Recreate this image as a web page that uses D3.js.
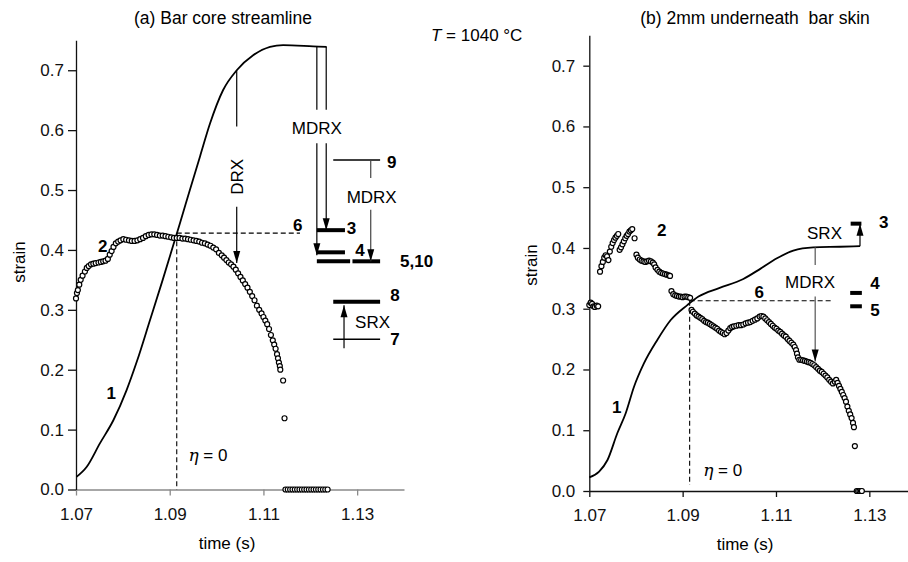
<!DOCTYPE html>
<html>
<head>
<meta charset="utf-8">
<script src="https://cdn.jsdelivr.net/npm/d3@7/dist/d3.min.js"></script>
<style>
  body { margin: 0; background: #fff; }
  svg { display: block; font-family: "Liberation Sans", Arial, sans-serif; }
  .tick text { font-size: 17px; fill: #111; }
  .num { font-size: 17px; font-weight: bold; }
  .note { font-size: 17px; }
</style>
</head>
<body>
<svg id="chart" width="908" height="562"></svg>
<script>
"use strict";

var timeTicks = [1.07, 1.09, 1.11, 1.13];
var strainTicks = [0, 0.1, 0.2, 0.3, 0.4, 0.5, 0.6, 0.7];

// (a) bar core: curve 1 = cumulative strain, 2 = strain at onset
var coreCurve = [
	[1.0701, 0.021], [1.0723, 0.038], [1.0751, 0.077], [1.0780, 0.116], [1.0808, 0.166],
	[1.0830, 0.214], [1.0858, 0.283], [1.0885, 0.350], [1.0908, 0.409], [1.0922, 0.445],
	[1.0943, 0.500], [1.0965, 0.557], [1.0986, 0.611], [1.1014, 0.667], [1.1043, 0.700],
	[1.1078, 0.725], [1.1114, 0.739], [1.1142, 0.742], [1.1206, 0.740], [1.1235, 0.739]
];
var coreScatter = [
	[1.0700, 0.319], [1.0702, 0.328], [1.0704, 0.333], [1.0707, 0.342], [1.0710, 0.350],
	[1.0714, 0.357], [1.0719, 0.364], [1.0723, 0.370], [1.0727, 0.373], [1.0732, 0.376],
	[1.0737, 0.377], [1.0742, 0.378], [1.0748, 0.379], [1.0753, 0.380], [1.0758, 0.381],
	[1.0763, 0.382], [1.0768, 0.385], [1.0772, 0.392], [1.0776, 0.398], [1.0780, 0.405],
	[1.0785, 0.411], [1.0790, 0.414], [1.0795, 0.416], [1.0801, 0.418], [1.0807, 0.417],
	[1.0813, 0.416], [1.0819, 0.415], [1.0825, 0.415], [1.0831, 0.416], [1.0837, 0.418],
	[1.0843, 0.420], [1.0849, 0.423], [1.0855, 0.425], [1.0861, 0.426], [1.0867, 0.426],
	[1.0873, 0.425], [1.0879, 0.424], [1.0885, 0.424], [1.0891, 0.423], [1.0897, 0.422],
	[1.0903, 0.421], [1.0909, 0.420], [1.0915, 0.420], [1.0921, 0.420], [1.0927, 0.419],
	[1.0933, 0.419], [1.0939, 0.418], [1.0945, 0.417], [1.0951, 0.416], [1.0957, 0.415],
	[1.0963, 0.414], [1.0969, 0.412], [1.0975, 0.411], [1.0981, 0.409], [1.0987, 0.407],
	[1.0993, 0.404], [1.0999, 0.401], [1.1005, 0.395], [1.1011, 0.391], [1.1016, 0.387],
	[1.1021, 0.383], [1.1026, 0.379], [1.1031, 0.376], [1.1036, 0.372], [1.1041, 0.367],
	[1.1046, 0.361], [1.1051, 0.355], [1.1056, 0.349], [1.1061, 0.343], [1.1066, 0.337],
	[1.1071, 0.330], [1.1076, 0.323], [1.1081, 0.316], [1.1086, 0.307], [1.1091, 0.300],
	[1.1096, 0.294], [1.1100, 0.288], [1.1104, 0.282], [1.1108, 0.276], [1.1112, 0.268],
	[1.1116, 0.258], [1.1120, 0.249], [1.1123, 0.242], [1.1126, 0.235], [1.1129, 0.226],
	[1.1131, 0.219], [1.1133, 0.212], [1.1135, 0.206], [1.1136, 0.200], [1.1142, 0.182],
	[1.1145, 0.119],
	[1.1147, 0], [1.1152, 0], [1.1157, 0], [1.1162, 0], [1.1167, 0], [1.1172, 0], [1.1177, 0],
	[1.1182, 0], [1.1187, 0], [1.1192, 0], [1.1197, 0], [1.1202, 0], [1.1207, 0], [1.1212, 0],
	[1.1217, 0], [1.1222, 0], [1.1227, 0], [1.1232, 0], [1.1237, 0]
];
// strain levels of the recrystallisation steps, labels 3..10
var coreLevels = {l3: 0.433, l4: 0.396, l510: 0.381, l9: 0.550, l8: 0.3135, l7: 0.251, l6: 0.428};

// (b) 2mm underneath bar skin
var skinCurve = [
	[1.0700, 0.0225], [1.0721, 0.032], [1.0739, 0.051], [1.0760, 0.095], [1.0778, 0.128],
	[1.0796, 0.172], [1.0817, 0.210], [1.0846, 0.249], [1.0874, 0.281], [1.0910, 0.306],
	[1.0934, 0.320], [1.0978, 0.334], [1.1030, 0.349], [1.1067, 0.366], [1.1102, 0.383],
	[1.1137, 0.3955], [1.1180, 0.401], [1.1237, 0.402], [1.1280, 0.403]
];
var skinScatter = [
	[1.0700, 0.306], [1.0703, 0.310], [1.0706, 0.308], [1.0709, 0.304], [1.0712, 0.303],
	[1.0716, 0.305], [1.0719, 0.304], [1.0723, 0.361], [1.0726, 0.370], [1.0729, 0.377],
	[1.0732, 0.384], [1.0735, 0.388], [1.0738, 0.386], [1.0741, 0.380], [1.0744, 0.394],
	[1.0747, 0.402], [1.0750, 0.408], [1.0753, 0.413], [1.0756, 0.417], [1.0759, 0.420],
	[1.0762, 0.423], [1.0765, 0.397], [1.0768, 0.401], [1.0771, 0.406], [1.0774, 0.411],
	[1.0777, 0.416], [1.0780, 0.420], [1.0783, 0.423], [1.0786, 0.427], [1.0789, 0.429],
	[1.0792, 0.431], [1.0797, 0.416], [1.0801, 0.389], [1.0804, 0.384], [1.0808, 0.381],
	[1.0812, 0.379], [1.0816, 0.378], [1.0820, 0.377], [1.0824, 0.378], [1.0828, 0.379],
	[1.0832, 0.378], [1.0836, 0.376], [1.0839, 0.373], [1.0842, 0.368], [1.0846, 0.364],
	[1.0850, 0.361], [1.0854, 0.359], [1.0858, 0.358], [1.0862, 0.357], [1.0866, 0.356],
	[1.0870, 0.355], [1.0873, 0.354], [1.0876, 0.329], [1.0880, 0.324], [1.0884, 0.322],
	[1.0888, 0.321], [1.0892, 0.320], [1.0896, 0.320], [1.0900, 0.319], [1.0904, 0.320],
	[1.0908, 0.320], [1.0912, 0.319], [1.0916, 0.318], [1.0919, 0.298], [1.0922, 0.295],
	[1.0926, 0.292], [1.0930, 0.289], [1.0934, 0.287], [1.0938, 0.285], [1.0942, 0.283],
	[1.0946, 0.280], [1.0950, 0.278], [1.0954, 0.277], [1.0958, 0.275], [1.0962, 0.273],
	[1.0966, 0.271], [1.0970, 0.269], [1.0974, 0.267], [1.0978, 0.264], [1.0982, 0.262],
	[1.0986, 0.260], [1.0990, 0.258], [1.0994, 0.260], [1.0998, 0.264], [1.1002, 0.268],
	[1.1006, 0.270], [1.1010, 0.271], [1.1015, 0.272], [1.1020, 0.273], [1.1025, 0.273],
	[1.1030, 0.274], [1.1035, 0.276], [1.1040, 0.277], [1.1045, 0.278], [1.1050, 0.280],
	[1.1055, 0.282], [1.1060, 0.284], [1.1065, 0.287], [1.1069, 0.288], [1.1073, 0.287],
	[1.1077, 0.284], [1.1081, 0.281], [1.1085, 0.278], [1.1089, 0.275], [1.1093, 0.272],
	[1.1097, 0.269], [1.1101, 0.267], [1.1105, 0.264], [1.1109, 0.262], [1.1113, 0.259],
	[1.1117, 0.256], [1.1121, 0.254], [1.1125, 0.250], [1.1129, 0.247], [1.1133, 0.244],
	[1.1137, 0.241], [1.1140, 0.237], [1.1143, 0.232], [1.1145, 0.226], [1.1147, 0.220],
	[1.1150, 0.216], [1.1154, 0.216], [1.1158, 0.215], [1.1162, 0.214], [1.1166, 0.213],
	[1.1170, 0.212], [1.1174, 0.211], [1.1178, 0.209], [1.1182, 0.207], [1.1186, 0.204],
	[1.1190, 0.201], [1.1194, 0.198], [1.1198, 0.196], [1.1202, 0.193], [1.1206, 0.190],
	[1.1210, 0.187], [1.1214, 0.183], [1.1218, 0.180], [1.1222, 0.177], [1.1226, 0.180],
	[1.1229, 0.183], [1.1232, 0.178], [1.1235, 0.173], [1.1238, 0.168], [1.1241, 0.163],
	[1.1244, 0.158], [1.1247, 0.153], [1.1250, 0.147], [1.1253, 0.139], [1.1256, 0.132],
	[1.1259, 0.126], [1.1262, 0.120], [1.1265, 0.112], [1.1267, 0.105], [1.1269, 0.074],
	[1.1273, 0], [1.1276, 0], [1.1279, 0], [1.1282, 0], [1.1284, 0]
];
var skinLevels = {l3: 0.440, l4: 0.326, l5: 0.304, l6: 0.313};

var svg = d3.select("#chart");

function makePanel(opts)
{
	var x = d3.scaleLinear().domain([1.07, 1.14]).range(opts.xRange);
	var y = d3.scaleLinear().domain([0, 0.75]).range(opts.yRange);
	var g = svg.append("g");

	var xAxis = g.append("g")
		.attr("transform", "translate(0," + y(0) + ")")
		.call(d3.axisBottom(x).tickValues(timeTicks).tickSize(6).tickSizeOuter(0)
			.tickPadding(12).tickFormat(d3.format(".2f")));
	xAxis.selectAll("path, line").attr("stroke", opts.xAxisColor).attr("stroke-width", 1.3);

	var yAxis = g.append("g")
		.attr("transform", "translate(" + x(1.07) + ",0)")
		.call(d3.axisLeft(y).tickValues(strainTicks).tickSize(opts.yTick).tickSizeOuter(0)
			.tickPadding(opts.yPad).tickFormat(d3.format(".1f")));
	yAxis.selectAll("path, line").attr("stroke", "#111").attr("stroke-width", 1.3);
	g.selectAll(".tick text").attr("font-family", null).attr("font-size", null);

	g.append("text").attr("class", "note")
		.attr("x", opts.timeLabel[0]).attr("y", opts.timeLabel[1])
		.attr("text-anchor", "middle").text("time (s)");
	g.append("text").attr("class", "note")
		.attr("transform", "translate(" + opts.strainLabel[0] + "," + opts.strainLabel[1] + ") rotate(-90)")
		.attr("text-anchor", "middle").attr("dy", "0.35em").text("strain");
	g.append("text").attr("class", "note").style("font-size", "17.5px").style("white-space", "pre")
		.attr("x", opts.title[0]).attr("y", opts.title[1])
		.attr("text-anchor", "middle").text(opts.title[2]);

	return {g: g, x: x, y: y};
}

function drawCurve(p, data)
{
	p.g.append("path")
		.datum(data)
		.attr("fill", "none")
		.attr("stroke", "#000")
		.attr("stroke-width", 1.8)
		.attr("d", d3.line().x(function(d) { return p.x(d[0]); })
			.y(function(d) { return p.y(d[1]); }).curve(d3.curveMonotoneX));
}

function drawScatter(p, data)
{
	p.g.append("g").selectAll("circle")
		.data(data)
		.enter().append("circle")
		.attr("cx", function(d) { return p.x(d[0]); })
		.attr("cy", function(d) { return p.y(d[1]); })
		.attr("r", 2.5)
		.attr("fill", "#fff")
		.attr("stroke", "#000")
		.attr("stroke-width", 1.2);
}

function hline(p, t0, t1, s, w, dash)
{
	p.g.append("line")
		.attr("x1", p.x(t0)).attr("x2", p.x(t1))
		.attr("y1", p.y(s)).attr("y2", p.y(s))
		.attr("stroke", "#000").attr("stroke-width", w)
		.attr("stroke-dasharray", dash ? "5,3" : null);
}

function vline(p, t, s0, s1, w, dash, color)
{
	p.g.append("line")
		.attr("x1", p.x(t)).attr("x2", p.x(t))
		.attr("y1", p.y(s0)).attr("y2", p.y(s1))
		.attr("stroke", color || "#000").attr("stroke-width", w)
		.attr("stroke-dasharray", dash ? "5,3" : null);
}

// vertical arrow from s0 to s1, filled head at s1
function arrow(p, t, s0, s1, color)
{
	var px = p.x(t), y0 = p.y(s0), y1 = p.y(s1);
	var dir = y1 > y0 ? 1 : -1;
	var headLen = 12, half = 3.5;
	vline(p, t, s0, s1, 1.2, false, color);
	p.g.append("path")
		.attr("d", "M" + px + "," + y1 + "L" + (px - half) + "," + (y1 - dir * headLen) +
			"L" + (px + half) + "," + (y1 - dir * headLen) + "Z")
		.attr("fill", "#000");
}

function label(p, t, s, txt, cls, anchor)
{
	return p.g.append("text")
		.attr("class", cls)
		.attr("x", p.x(t)).attr("y", p.y(s))
		.attr("dy", "0.35em")
		.attr("text-anchor", anchor || "middle")
		.text(txt);
}

function etaLabel(p, t, s)
{
	var t0 = p.g.append("text").attr("class", "note")
		.attr("x", p.x(t)).attr("y", p.y(s)).attr("dy", "0.35em");
	t0.append("tspan").style("font-style", "italic").style("font-family", "'DejaVu Serif', serif").text("\u03b7");
	t0.append("tspan").text(" = 0");
}

// ---- panel (a)
var a = makePanel({
	xRange: [76, 404], yRange: [489.5, 40.3], xAxisColor: "#8a8a8a",
	yTick: 8, yPad: 4,
	timeLabel: [227, 549], strainLabel: [19, 262],
	title: [223, 23.5, "(a) Bar core streamline"]
});

hline(a, 1.0915, 1.1178, coreLevels.l6, 1.1, true);
vline(a, 1.0915, coreLevels.l6, 0, 1.1, true);
drawCurve(a, coreCurve);
drawScatter(a, coreScatter);

// DRX
vline(a, 1.1043, 0.700, 0.606, 1.2);
label(a, 1.1043, 0.522, "DRX", "note").attr("transform", "rotate(-90," + a.x(1.1043) + "," + a.y(0.522) + ")");
arrow(a, 1.1043, 0.472, 0.378);

// MDRX from the peak strain
vline(a, 1.1214, 0.740, 0.634, 1.2);
vline(a, 1.1234, 0.739, 0.634, 1.2);
label(a, 1.1214, 0.603, "MDRX", "note");
arrow(a, 1.1214, 0.578, coreLevels.l4 - 0.005);
arrow(a, 1.1234, 0.578, coreLevels.l3);

hline(a, 1.1214, 1.1274, coreLevels.l3, 4);
hline(a, 1.1214, 1.1274, coreLevels.l4, 4);
hline(a, 1.1214, 1.1285, coreLevels.l510, 4);
hline(a, 1.1290, 1.1349, coreLevels.l510, 4);
hline(a, 1.1249, 1.1349, coreLevels.l9, 1.5);
hline(a, 1.1249, 1.1349, coreLevels.l8, 4);
hline(a, 1.1249, 1.1349, coreLevels.l7, 1.5);

vline(a, 1.1329, coreLevels.l9, 0.520, 1.2, false, "#444");
label(a, 1.1331, 0.488, "MDRX", "note");
arrow(a, 1.1329, 0.467, coreLevels.l510, "#444");

vline(a, 1.1272, 0.236, coreLevels.l7, 1.2);
arrow(a, 1.1272, coreLevels.l7, coreLevels.l8 - 0.006);
label(a, 1.1333, 0.280, "SRX", "note");

label(a, 1.0757, 0.4065, "2", "num");
label(a, 1.0775, 0.1606, "1", "num");
label(a, 1.1173, 0.4416, "6", "num");
label(a, 1.1288, 0.437, "3", "num");
label(a, 1.1306, 0.400, "4", "num");
label(a, 1.1427, 0.3815, "5,10", "num");
label(a, 1.1374, 0.547, "9", "num");
label(a, 1.1381, 0.3247, "8", "num");
label(a, 1.1381, 0.2508, "7", "num");
etaLabel(a, 1.0940, 0.0576);

// ---- panel (b)
var b = makePanel({
	xRange: [589.3, 916], yRange: [491, 35.3], xAxisColor: "#111",
	yTick: 6, yPad: 8,
	timeLabel: [745, 550], strainLabel: [531, 265],
	title: [755, 23.5, "(b) 2mm underneath  bar skin"]
});

hline(b, 1.0915, 1.1219, skinLevels.l6, 1.1, true);
vline(b, 1.0915, skinLevels.l6, 0.01, 1.1, true);
drawCurve(b, skinCurve);
drawScatter(b, skinScatter);

vline(b, 1.1184, 0.401, 0.372, 1.2, false, "#555");
label(b, 1.1173, 0.3445, "MDRX", "note");
arrow(b, 1.1184, 0.320, 0.213, "#555");

arrow(b, 1.1280, 0.403, skinLevels.l3);
label(b, 1.1204, 0.424, "SRX", "note");

hline(b, 1.1260, 1.1283, skinLevels.l3, 4);
hline(b, 1.1259, 1.1284, skinLevels.l4, 4);
hline(b, 1.1259, 1.1284, skinLevels.l5, 4);

label(b, 1.0855, 0.4296, "2", "num");
label(b, 1.0759, 0.1378, "1", "num");
label(b, 1.1064, 0.328, "6", "num");
label(b, 1.1331, 0.443, "3", "num");
label(b, 1.1312, 0.343, "4", "num");
label(b, 1.1312, 0.298, "5", "num");
etaLabel(b, 1.0944, 0.0346);

// temperature note between the panels
var tnote = svg.append("text").attr("class", "note").attr("x", 431).attr("y", 41);
tnote.append("tspan").style("font-style", "italic").text("T");
tnote.append("tspan").text(" = 1040 \u00b0C");
</script>
</body>
</html>
